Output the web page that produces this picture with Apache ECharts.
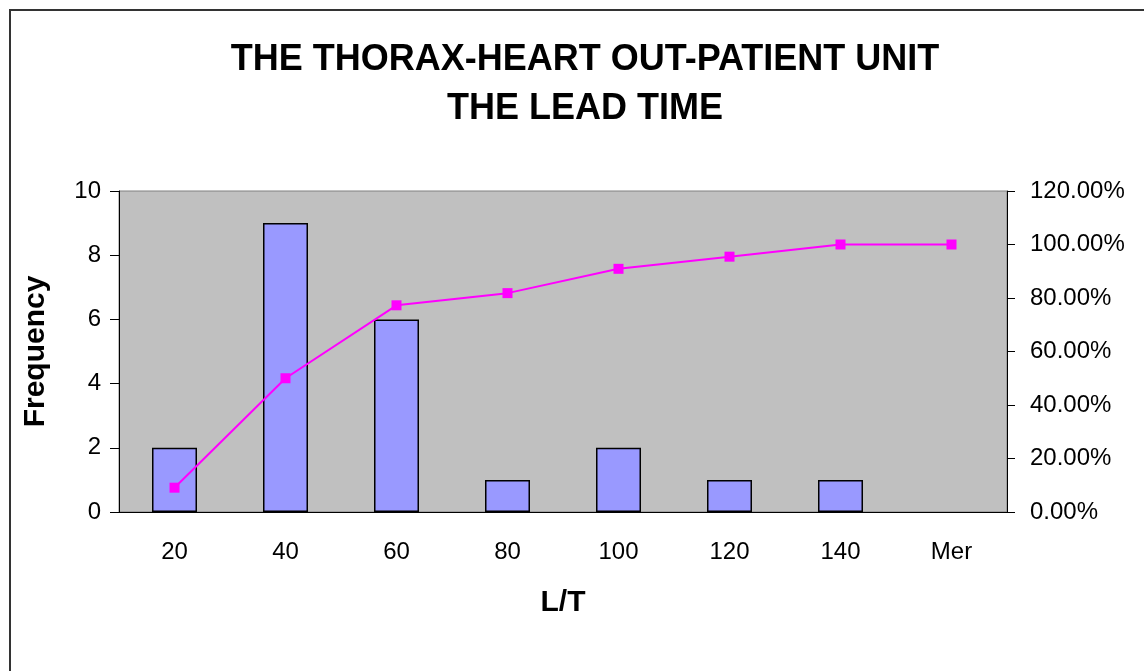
<!DOCTYPE html>
<html>
<head>
<meta charset="utf-8">
<script src="https://cdn.jsdelivr.net/npm/echarts@6/dist/echarts.min.js"></script>
<style>
  html, body { margin: 0; padding: 0; background: #fff; }
  #chart { width: 1144px; height: 671px; }
</style>
</head>
<body>
<div id="chart"></div>
<script>
// lead time bins
const categories = ['20', '40', '60', '80', '100', '120', '140', 'Mer'];
const frequency = [2, 9, 6, 1, 2, 1, 1, 0];
// cumulative percentage
const cumulative = [9.09, 50, 77.27, 81.82, 90.91, 95.45, 100, 100];

const chart = echarts.init(document.getElementById('chart'));
const FONT = 'Arial, "Liberation Sans", sans-serif';

// empty bins get no outline (Excel draws nothing for 0)
const barData = frequency.map(v => v === 0 ? { value: v, itemStyle: { borderWidth: 0 } } : v);

chart.setOption({
  backgroundColor: '#fff',
  animation: false,
  graphic: [{
    type: 'rect',
    shape: { x: 10, y: 10, width: 1200, height: 700 },
    style: { fill: 'none', stroke: '#333', lineWidth: 2 },
    silent: true
  }],
  title: {
    text: 'THE THORAX-HEART OUT-PATIENT UNIT\nTHE LEAD TIME',
    left: 580,
    top: 31,
    textAlign: 'center',
    textStyle: {
      fontFamily: FONT,
      fontSize: 36,
      fontWeight: 'bold',
      color: '#000',
      lineHeight: 49
    }
  },
  grid: {
    left: 119,
    right: 137,
    top: 191,
    bottom: 159,
    show: true,
    backgroundColor: '#C0C0C0',
    borderColor: '#808080',
    borderWidth: 1
  },
  xAxis: {
    type: 'category',
    data: categories,
    name: 'L/T',
    nameLocation: 'middle',
    nameGap: 76,
    nameTextStyle: { fontFamily: FONT, fontSize: 30, fontWeight: 'bold', color: '#000' },
    axisLine: { lineStyle: { color: '#000', width: 1 } },
    axisTick: { length: 8, lineStyle: { color: '#000' } },
    axisLabel: { fontFamily: FONT, fontSize: 24, color: '#000', margin: 28 },
    splitLine: { show: false }
  },
  yAxis: [{
    type: 'value',
    min: 0,
    max: 10,
    interval: 2,
    name: 'Frequency',
    nameLocation: 'middle',
    nameGap: 68,
    nameRotate: 90,
    nameTextStyle: { fontFamily: FONT, fontSize: 30, fontWeight: 'bold', color: '#000' },
    axisLine: { show: true, lineStyle: { color: '#000', width: 1 } },
    axisTick: { show: true, length: 9, lineStyle: { color: '#000' } },
    axisLabel: { fontFamily: FONT, fontSize: 24, color: '#000', margin: 18 },
    splitLine: { show: false }
  }, {
    type: 'value',
    min: 0,
    max: 120,
    interval: 20,
    position: 'right',
    axisLine: { show: true, lineStyle: { color: '#000', width: 1 } },
    axisTick: { show: true, length: 8, lineStyle: { color: '#000' } },
    axisLabel: {
      fontFamily: FONT, fontSize: 24, color: '#000', margin: 23,
      formatter: v => v.toFixed(2) + '%'
    },
    splitLine: { show: false }
  }],
  series: [{
    name: 'Frequency',
    type: 'bar',
    data: barData,
    barWidth: 45,
    itemStyle: { color: '#9999FF', borderColor: '#000', borderWidth: 1.5 }
  }, {
    name: 'Cumulative %',
    type: 'line',
    yAxisIndex: 1,
    data: cumulative,
    symbol: 'rect',
    symbolSize: 10,
    lineStyle: { color: '#FF00FF', width: 2 },
    itemStyle: { color: '#FF00FF' }
  }]
});
</script>
</body>
</html>
